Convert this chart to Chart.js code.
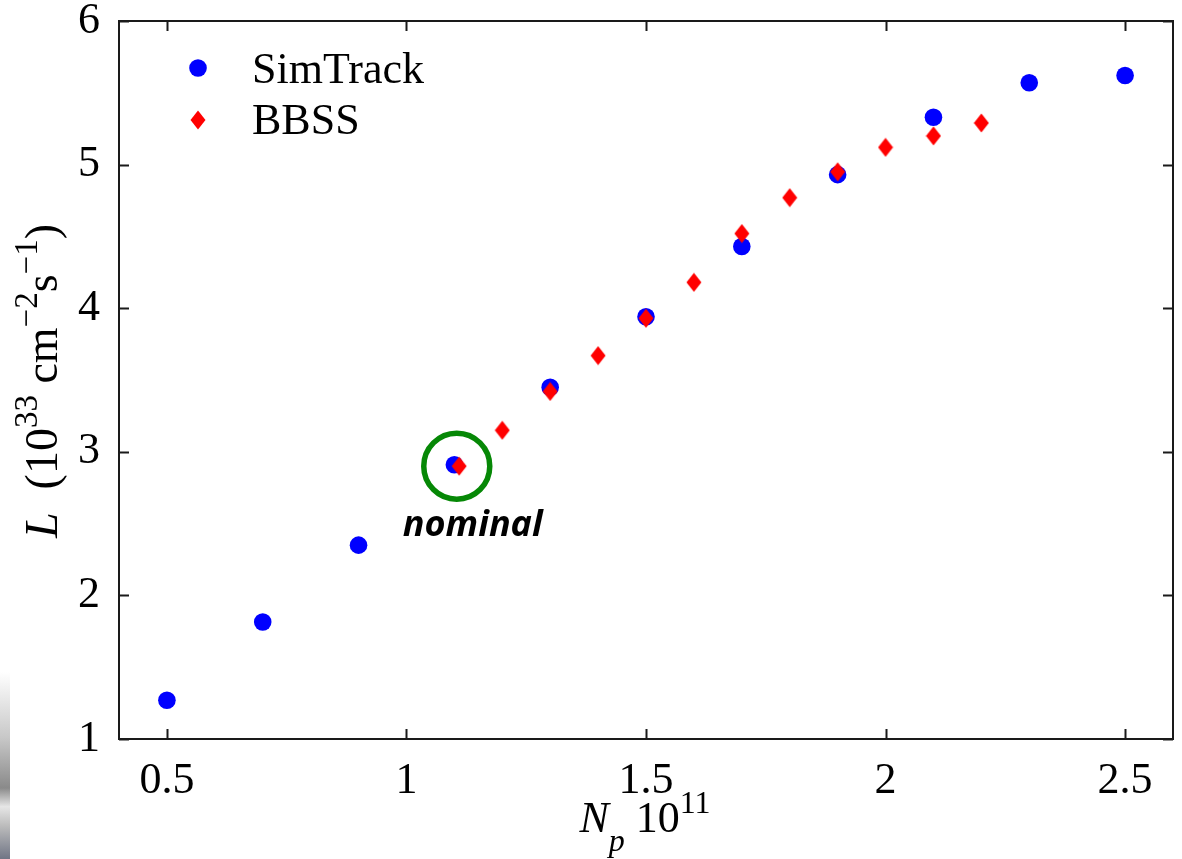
<!DOCTYPE html>
<html>
<head>
<meta charset="utf-8">
<script src="https://cdn.jsdelivr.net/npm/chart.js@4/dist/chart.umd.min.js"></script>
<style>
  html, body { margin: 0; padding: 0; background: #fff; }
  #wrap { position: relative; width: 1182px; height: 859px; }
  #strip {
    position: absolute; left: 0; top: 672px; width: 10px; height: 187px;
    background: linear-gradient(to bottom, #fff 0%, #c8c8c8 35%, #8a8a8a 62%, #e6e6e6 72%, #bdbdbd 82%, #707585 100%);
  }
  canvas { position: absolute; left: 0; top: 0; }
</style>
</head>
<body>
<div id="wrap">
  <canvas id="chart" width="1182" height="859"></canvas>
  <div id="strip"></div>
</div>
<script>
const xTicks = [0.5, 1, 1.5, 2, 2.5]
const yTicks = [1, 2, 3, 4, 5, 6]

const simTrackNp = [0.5, 0.7, 0.9, 1.1, 1.3, 1.5, 1.7, 1.9, 2.1, 2.3, 2.5]
const simTrackL = [1.27, 1.815, 2.35, 2.91, 3.45, 3.94, 4.43, 4.93, 5.33, 5.57, 5.62]

const bbssNp = [1.11, 1.2, 1.3, 1.4, 1.5, 1.6, 1.7, 1.8, 1.9, 2.0, 2.1, 2.2]
const bbssL = [2.9, 3.15, 3.42, 3.67, 3.93, 4.18, 4.52, 4.77, 4.95, 5.12, 5.2, 5.29]

const nominalPoint = { x: 1.105, y: 2.9 }

const BLUE = "#0000ff"
const RED = "#ff0000"
const GREEN = "#068806"
const AXIS = "#1a1a1a"
const SERIF = "'Liberation Serif', 'DejaVu Serif', serif"

// red diamond marker, a bit taller than wide
const diamond = document.createElement("canvas")
diamond.width = 16
diamond.height = 20
{
  const d = diamond.getContext("2d")
  d.fillStyle = RED
  d.beginPath()
  d.moveTo(8, 0.5)
  d.lineTo(15.5, 10)
  d.lineTo(8, 19.5)
  d.lineTo(0.5, 10)
  d.closePath()
  d.fill()
}

// draw a run of text pieces [text, font, dy] starting at x, baseline y
const drawRuns = (ctx, runs, x, y) => {
  let cx = x
  for (const [text, font, dy] of runs) {
    ctx.font = font
    ctx.fillText(text, cx, y + dy)
    cx += ctx.measureText(text).width
  }
}
const runsWidth = (ctx, runs) => {
  let w = 0
  for (const [text, font] of runs) {
    ctx.font = font
    w += ctx.measureText(text).width
  }
  return w
}

const frame = {
  id: "frame",
  afterDraw(chart) {
    const { ctx, chartArea: { left, right, top, bottom }, scales: { x, y } } = chart
    ctx.save()
    ctx.strokeStyle = AXIS
    ctx.lineWidth = 2
    ctx.strokeRect(left, top, right - left, bottom - top)
    ctx.beginPath()
    for (const v of xTicks) {
      const px = Math.round(x.getPixelForValue(v)) + 0.5
      ctx.moveTo(px, bottom); ctx.lineTo(px, bottom - 10)
      ctx.moveTo(px, top); ctx.lineTo(px, top + 10)
    }
    for (const v of yTicks) {
      const py = Math.round(y.getPixelForValue(v)) + 0.5
      ctx.moveTo(left, py); ctx.lineTo(left + 10, py)
      ctx.moveTo(right, py); ctx.lineTo(right - 10, py)
    }
    ctx.stroke()

    // legend
    ctx.fillStyle = BLUE
    ctx.beginPath()
    ctx.arc(198, 68, 8.8, 0, Math.PI * 2)
    ctx.fill()
    ctx.drawImage(diamond, 190, 110)
    ctx.fillStyle = "#000"
    ctx.font = `44px ${SERIF}`
    ctx.textBaseline = "alphabetic"
    ctx.textAlign = "left"
    ctx.fillText("SimTrack", 252, 83)
    ctx.fillText("BBSS", 252, 134)

    // nominal marker
    const nx = x.getPixelForValue(nominalPoint.x)
    const ny = y.getPixelForValue(nominalPoint.y)
    ctx.strokeStyle = GREEN
    ctx.lineWidth = 5.5
    ctx.beginPath()
    ctx.arc(nx, ny, 33, 0, Math.PI * 2)
    ctx.stroke()
    ctx.fillStyle = "#000"
    ctx.font = "italic bold 36px 'Open Sans'"
    ctx.textAlign = "center"
    ctx.fillText("nominal", nx + 16, ny + 70)

    // axis titles
    ctx.textAlign = "left"
    const big = `44px ${SERIF}`
    const bigIt = `italic 44px ${SERIF}`
    const small = `32px ${SERIF}`
    const smallIt = `italic 32px ${SERIF}`
    const xRuns = [["N", bigIt, 0], ["p", smallIt, 19], [" 10", big, 0], ["11", small, -19]]
    const xw = runsWidth(ctx, xRuns)
    drawRuns(ctx, xRuns, 645 - xw / 2, 832)

    const yBig = `46px ${SERIF}`
    const yBigIt = `italic 46px ${SERIF}`
    const ySmall = `33px ${SERIF}`
    const yRuns = [["L", yBigIt, 0], ["  (10", yBig, 0], ["33", ySmall, -20], [" cm", yBig, 0],
      ["\u22122", ySmall, -20], ["s", yBig, 0], ["\u22121", ySmall, -20], [")", yBig, 0]]
    const yw = runsWidth(ctx, yRuns)
    ctx.translate(57, 381)
    ctx.rotate(-Math.PI / 2)
    drawRuns(ctx, yRuns, -yw / 2, 0)
    ctx.restore()
  },
}

new Chart(document.getElementById("chart"), {
  type: "scatter",
  data: {
    datasets: [
      {
        label: "SimTrack",
        data: simTrackNp.map((v, i) => ({ x: v, y: simTrackL[i] })),
        pointStyle: "circle",
        pointRadius: 8.8,
        pointHoverRadius: 8.8,
        backgroundColor: BLUE,
        borderWidth: 0,
        order: 1,
      },
      {
        label: "BBSS",
        data: bbssNp.map((v, i) => ({ x: v, y: bbssL[i] })),
        pointStyle: diamond,
        pointRadius: 9,
        backgroundColor: RED,
        borderWidth: 0,
        order: 0,
      },
    ],
  },
  options: {
    responsive: false,
    animation: false,
    devicePixelRatio: 1,
    layout: { padding: { top: 21, right: -4, left: 0, bottom: 0 } },
    plugins: { legend: { display: false }, tooltip: { enabled: false } },
    scales: {
      x: {
        type: "linear",
        min: 0.4,
        max: 2.6,
        grid: { display: false },
        border: { display: false },
        afterBuildTicks: (scale) => { scale.ticks = xTicks.map((v) => ({ value: v })) },
        afterFit: (scale) => {
          scale.height = 120
          scale.paddingLeft = 0
          scale.paddingRight = 0
        },
        ticks: {
          color: "#000",
          padding: 8,
          maxRotation: 0,
          font: { family: SERIF, size: 44 },
          callback: (v) => String(v),
        },
      },
      y: {
        type: "linear",
        min: 1,
        max: 6,
        grid: { display: false },
        border: { display: false },
        afterBuildTicks: (scale) => { scale.ticks = yTicks.map((v) => ({ value: v })) },
        afterFit: (scale) => {
          scale.width = 119
          scale.paddingTop = 0
          scale.paddingBottom = 0
        },
        ticks: {
          color: "#000",
          padding: 11,
          font: { family: SERIF, size: 44 },
          callback: (v) => String(v),
        },
      },
    },
  },
  plugins: [frame],
})
</script>
</body>
</html>
